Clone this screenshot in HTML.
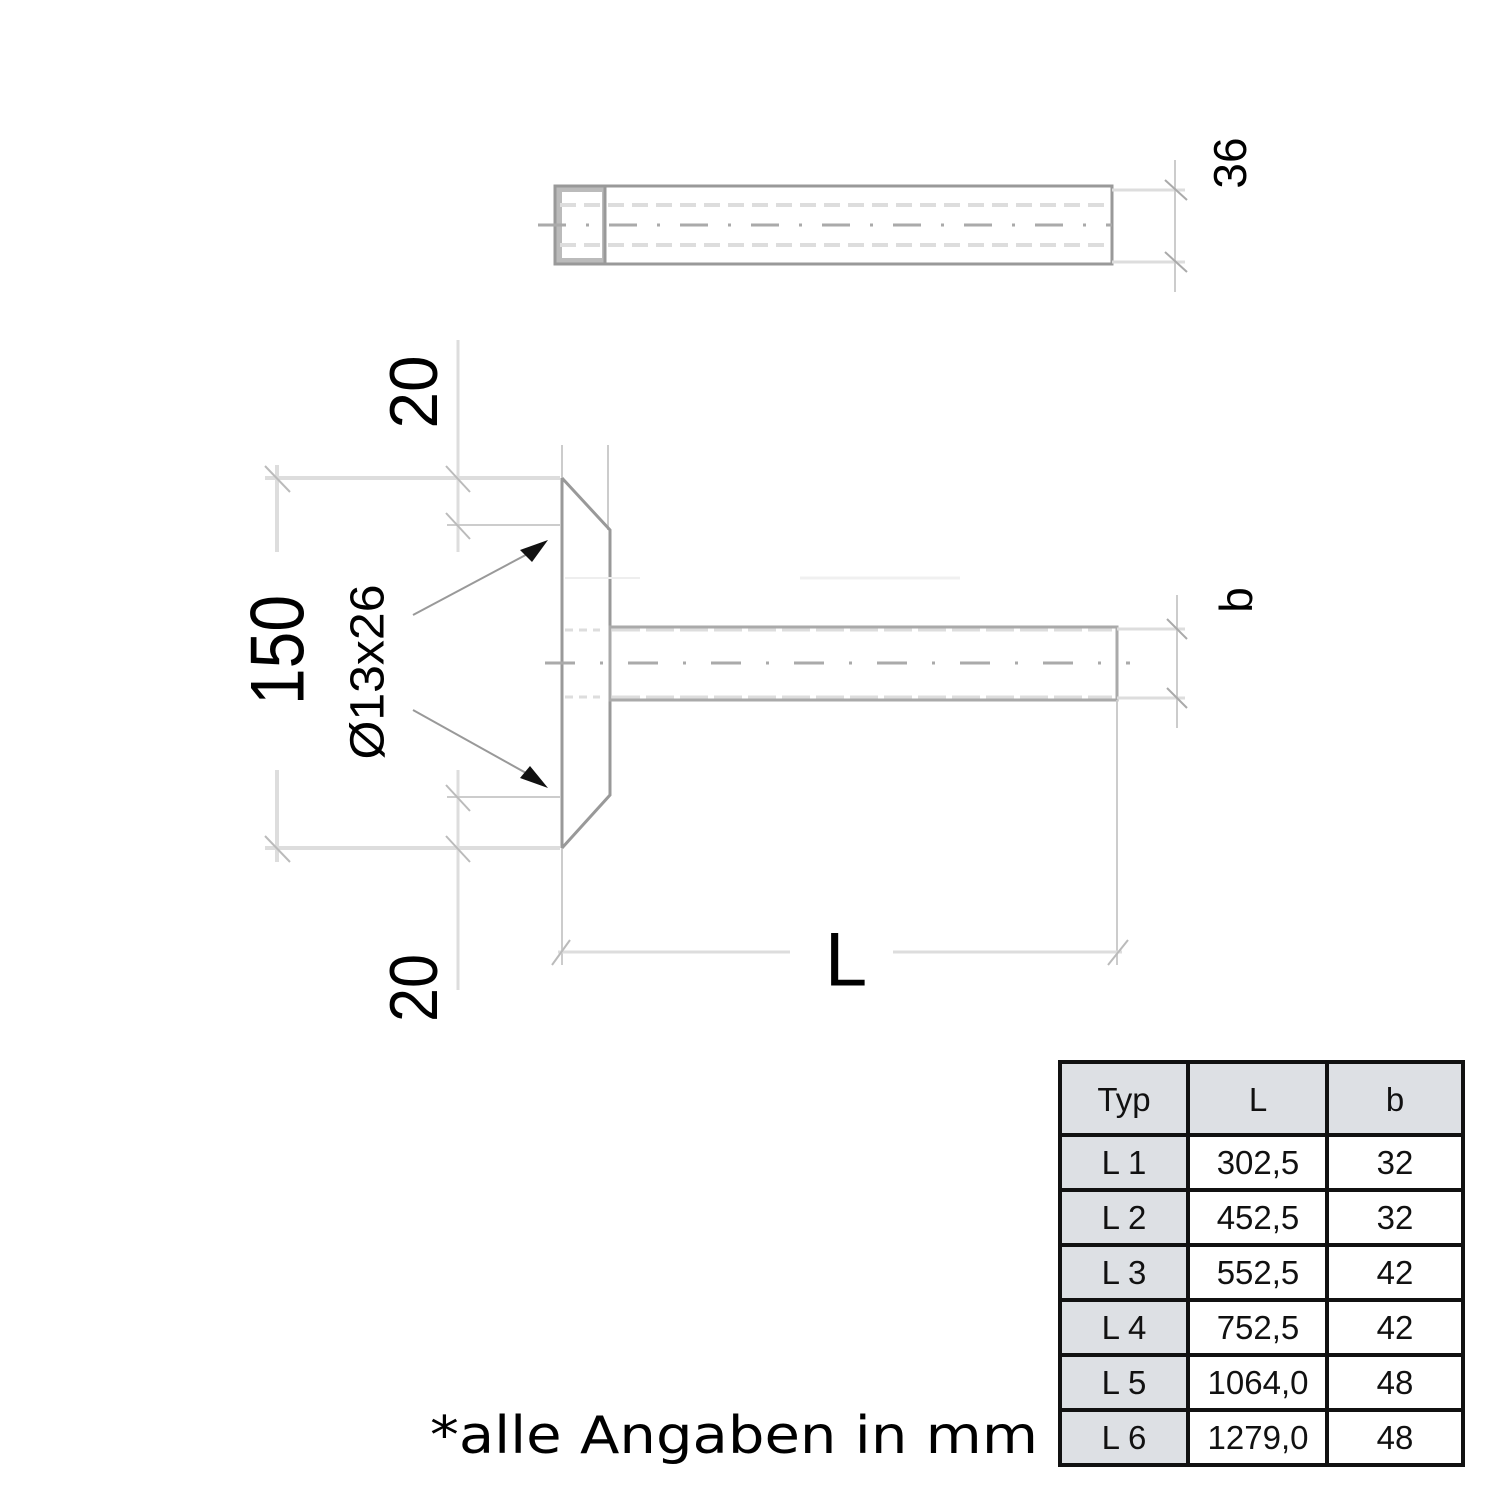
<!DOCTYPE html>
<html><head><meta charset="utf-8"><style>body{margin:0;background:#fff}svg{display:block}</style></head>
<body>
<svg width="1500" height="1500" viewBox="0 0 1500 1500" xmlns="http://www.w3.org/2000/svg" font-family="Liberation Sans, DejaVu Sans, sans-serif">
<g fill="none" stroke="#bbb" stroke-width="2">
  <!-- top view -->
  <rect x="555" y="186" width="557" height="78" stroke="#999" stroke-width="3"/>
  <rect x="555" y="186" width="50" height="78" fill="#bbb" stroke="#999" stroke-width="3"/>
  <rect x="562" y="192" width="40" height="66" fill="#fff" stroke="none"/>
  <line x1="560" y1="205" x2="1108" y2="205" stroke="#ddd" stroke-width="4" stroke-dasharray="16,8"/>
  <line x1="560" y1="245" x2="1108" y2="245" stroke="#ddd" stroke-width="4" stroke-dasharray="16,8"/>
  <line x1="538" y1="225" x2="1112" y2="225" stroke="#aaa" stroke-width="3" stroke-dasharray="28,20,3,20"/>
  <line x1="1112" y1="190" x2="1185" y2="190" stroke="#ddd" stroke-width="3"/>
  <line x1="1112" y1="262" x2="1185" y2="262" stroke="#ddd" stroke-width="3"/>
  <line x1="1175" y1="160" x2="1175" y2="292" stroke="#ccc"/>
  <line x1="1165" y1="180" x2="1187" y2="200" stroke="#aaa"/>
  <line x1="1165" y1="252" x2="1187" y2="272" stroke="#aaa"/>

  <!-- head -->
  <line x1="562" y1="445" x2="562" y2="965" stroke="#ccc"/>
  <line x1="608" y1="445" x2="608" y2="530" stroke="#ccc"/>
  <polyline points="562,478 610,530 610,795 562,848" stroke="#999" stroke-width="3"/>
  <line x1="562" y1="478" x2="562" y2="848" stroke="#999" stroke-width="3"/>
  <line x1="565" y1="578" x2="640" y2="578" stroke="#eee"/>
  <line x1="800" y1="578" x2="960" y2="578" stroke="#f0f0f0" stroke-width="3"/>
  <!-- shaft -->
  <rect x="610" y="627" width="507" height="73" stroke="#aaa" stroke-width="3"/>
  <line x1="612" y1="630" x2="1112" y2="630" stroke="#ddd" stroke-width="3" stroke-dasharray="28,6"/>
  <line x1="612" y1="697" x2="1112" y2="697" stroke="#ddd" stroke-width="3" stroke-dasharray="28,6"/>
  <line x1="565" y1="630" x2="600" y2="630" stroke="#ddd" stroke-width="3" stroke-dasharray="8,6"/>
  <line x1="565" y1="697" x2="600" y2="697" stroke="#ddd" stroke-width="3" stroke-dasharray="8,6"/>
  <line x1="545" y1="663" x2="1130" y2="663" stroke="#aaa" stroke-width="3" stroke-dasharray="30,25,3,25"/>
  <line x1="1117" y1="700" x2="1117" y2="965" stroke="#ccc"/>
  <line x1="1117" y1="629" x2="1185" y2="629" stroke="#ddd" stroke-width="3"/>
  <line x1="1117" y1="698" x2="1185" y2="698" stroke="#ddd" stroke-width="3"/>
  <line x1="1177" y1="595" x2="1177" y2="728" stroke="#ccc"/>
  <line x1="1167" y1="619" x2="1187" y2="639" stroke="#aaa"/>
  <line x1="1167" y1="688" x2="1187" y2="708" stroke="#aaa"/>

  <!-- left dims -->
  <line x1="265" y1="478" x2="560" y2="478" stroke="#ddd" stroke-width="4"/>
  <line x1="265" y1="848" x2="560" y2="848" stroke="#ddd" stroke-width="4"/>
  <line x1="277" y1="465" x2="277" y2="552" stroke="#ddd" stroke-width="4"/>
  <line x1="277" y1="770" x2="277" y2="862" stroke="#ddd" stroke-width="4"/>
  <line x1="265" y1="466" x2="290" y2="492" stroke="#bbb"/>
  <line x1="265" y1="836" x2="290" y2="862" stroke="#bbb"/>
  <line x1="458" y1="340" x2="458" y2="552" stroke="#ddd" stroke-width="3"/>
  <line x1="458" y1="770" x2="458" y2="990" stroke="#ddd" stroke-width="3"/>
  <line x1="447" y1="525" x2="560" y2="525" stroke="#ccc"/>
  <line x1="447" y1="797" x2="560" y2="797" stroke="#ccc"/>
  <line x1="446" y1="466" x2="470" y2="492" stroke="#bbb"/>
  <line x1="446" y1="513" x2="470" y2="539" stroke="#bbb"/>
  <line x1="446" y1="785" x2="470" y2="811" stroke="#bbb"/>
  <line x1="446" y1="836" x2="470" y2="862" stroke="#bbb"/>
  <!-- arrows -->
  <line x1="413" y1="615" x2="535" y2="550" stroke="#999"/>
  <line x1="413" y1="710" x2="535" y2="778" stroke="#999"/>

  <!-- L dim -->
  <line x1="558" y1="952" x2="790" y2="952" stroke="#ddd" stroke-width="3"/>
  <line x1="893" y1="952" x2="1122" y2="952" stroke="#ddd" stroke-width="3"/>
  <line x1="552" y1="965" x2="570" y2="940" stroke="#bbb"/>
  <line x1="1108" y1="965" x2="1128" y2="940" stroke="#bbb"/>
</g>
<polygon points="548,540 520,550 532,562" fill="#111"/>
<polygon points="548,788 520,778 530,766" fill="#111"/>

<g fill="#000" text-anchor="middle" dominant-baseline="central">
  <text transform="translate(1230,163) rotate(-90)" font-size="46">36</text>
  <text transform="translate(1236,600) rotate(-90)" font-size="46">b</text>
  <text transform="translate(278,650) rotate(-90)" font-size="76" textLength="110" lengthAdjust="spacingAndGlyphs">150</text>
  <text transform="translate(368,672) rotate(-90)" font-size="48" textLength="175" lengthAdjust="spacingAndGlyphs">Ø13x26</text>
  <text transform="translate(414,392) rotate(-90)" font-size="68" textLength="73" lengthAdjust="spacingAndGlyphs">20</text>
  <text transform="translate(414,988) rotate(-90)" font-size="68" textLength="68" lengthAdjust="spacingAndGlyphs">20</text>
  <text x="846" y="960" font-size="76">L</text>
</g>

<!-- table -->
<g>
  <rect x="1060" y="1062" width="403" height="73" fill="#dde0e4"/>
  <rect x="1060" y="1135" width="128" height="330" fill="#dde0e4"/>
  <g stroke="#111" stroke-width="4" fill="none">
    <rect x="1060" y="1062" width="403" height="403"/>
    <line x1="1188" y1="1062" x2="1188" y2="1465"/>
    <line x1="1327" y1="1062" x2="1327" y2="1465"/>
    <line x1="1060" y1="1135" x2="1463" y2="1135"/>
    <line x1="1060" y1="1190" x2="1463" y2="1190"/>
    <line x1="1060" y1="1245" x2="1463" y2="1245"/>
    <line x1="1060" y1="1300" x2="1463" y2="1300"/>
    <line x1="1060" y1="1355" x2="1463" y2="1355"/>
    <line x1="1060" y1="1410" x2="1463" y2="1410"/>
  </g>
  <g font-size="33" fill="#111" text-anchor="middle">
    <text x="1124" y="1111">Typ</text><text x="1258" y="1111">L</text><text x="1395" y="1111">b</text>
    <text x="1124" y="1174">L 1</text><text x="1258" y="1174">302,5</text><text x="1395" y="1174">32</text>
    <text x="1124" y="1229">L 2</text><text x="1258" y="1229">452,5</text><text x="1395" y="1229">32</text>
    <text x="1124" y="1284">L 3</text><text x="1258" y="1284">552,5</text><text x="1395" y="1284">42</text>
    <text x="1124" y="1339">L 4</text><text x="1258" y="1339">752,5</text><text x="1395" y="1339">42</text>
    <text x="1124" y="1394">L 5</text><text x="1258" y="1394">1064,0</text><text x="1395" y="1394">48</text>
    <text x="1124" y="1449">L 6</text><text x="1258" y="1449">1279,0</text><text x="1395" y="1449">48</text>
  </g>
</g>
<text x="430" y="1453" font-family="DejaVu Sans, sans-serif" font-size="52" fill="#000" textLength="608" lengthAdjust="spacingAndGlyphs">*alle Angaben in mm</text>
</svg>
</body></html>
